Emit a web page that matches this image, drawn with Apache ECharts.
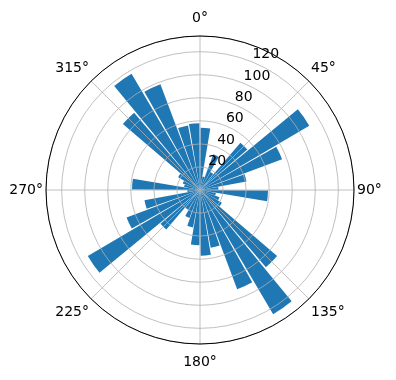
<!DOCTYPE html>
<html>
<head>
<meta charset="utf-8">
<script src="https://cdn.jsdelivr.net/npm/echarts@6/dist/echarts.min.js"></script>
<style>
html,body{margin:0;padding:0;background:#fff;}
#chart{width:396px;height:380px;}
</style>
</head>
<body>
<div id="chart"></div>
<script>
// Bin centres (degrees, clockwise from north)
const directions = ['5','15','25','35','45','55','65','75','85','95','105','115',
  '125','135','145','155','165','175','185','195','205','215','225','235',
  '245','255','265','275','285','295','305','315','325','335','345','355'];
// Bar heights
const counts = [54, 12, 33, 18, 54, 110, 76, 41, 16, 59, 14, 18,
  22, 88, 125, 92, 51, 57, 48, 33, 26, 20, 45, 113,
  68, 49, 11, 59, 14, 16, 22, 88, 117, 98, 57, 58];
// Tick labels
const angleTicks = [0, 45, 90, 135, 180, 225, 270, 315];
const radiusTicks = [20, 40, 60, 80, 100, 120];
const rMax = 133.6;
const radiusLabelAngle = 22.5;

const chart = echarts.init(document.getElementById('chart'), null, {renderer: 'canvas'});
const FONT = 'DejaVu Sans';
const center = [200, 190];
const radius = 154;

function angleLabel(v) {
  if (angleTicks.indexOf(v) < 0) return '';
  const t = v + '°';
  if (v === 0) return '{n|' + t + '}';
  if (v === 180) return '{s|' + t + '}';
  if (v === 45 || v === 315) return '{nd|' + t + '}';
  if (v === 135 || v === 225) return '{sd|' + t + '}';
  return '{m|' + t + '}';
}
const base = {color: '#000', fontFamily: FONT, fontSize: 14};

chart.setOption({
  animation: false,
  polar: [
    {center: center, radius: radius},
    {center: center, radius: radius}
  ],
  angleAxis: [
    { // bars
      polarIndex: 0, type: 'category', data: directions, startAngle: 90, clockwise: true,
      boundaryGap: true,
      axisLine: {show: false}, axisTick: {show: false}, axisLabel: {show: false}, splitLine: {show: false}
    },
    { // grid + degree labels
      polarIndex: 1, type: 'value', min: 0, max: 360, interval: 45, startAngle: 90, clockwise: true,
      z: 10,
      axisLine: {show: true, lineStyle: {color: '#000', width: 1}},
      axisTick: {show: false},
      axisLabel: {
        show: true, margin: 3, color: '#000', fontFamily: FONT, fontSize: 14,
        formatter: angleLabel,
        rich: {
          n: Object.assign({padding: [0, 0, 8, 0]}, base),
          s: Object.assign({padding: [8, 0, 0, 0]}, base),
          nd: Object.assign({padding: [0, 0, 4, 0]}, base),
          sd: Object.assign({padding: [4, 0, 0, 0]}, base),
          m: Object.assign({}, base)
        }
      },
      splitLine: {show: true, lineStyle: {color: '#b0b0b0', width: 0.8}}
    }
  ],
  radiusAxis: [
    {
      polarIndex: 0, type: 'value', min: 0, max: rMax,
      axisLine: {show: false}, axisTick: {show: false}, axisLabel: {show: false}, splitLine: {show: false}
    },
    {
      polarIndex: 1, type: 'value', min: 0, max: rMax, interval: 20, z: 10,
      axisLine: {show: false}, axisTick: {show: false}, axisLabel: {show: false},
      splitLine: {show: true, lineStyle: {color: '#b0b0b0', width: 0.8}}
    }
  ],
  series: [{
    type: 'bar',
    coordinateSystem: 'polar',
    polarIndex: 0,
    data: counts,
    barCategoryGap: '10%',
    itemStyle: {color: '#1f77b4'},
    z: 2
  }, {
    // radius tick labels, placed at the tick radii along 22.5°
    type: 'scatter',
    coordinateSystem: 'polar',
    polarIndex: 1,
    symbol: 'circle',
    symbolSize: 1,
    itemStyle: {color: 'rgba(0,0,0,0)'},
    silent: true,
    z: 20,
    labelLayout: {hideOverlap: false},
    data: radiusTicks.map(function (v) { return [v, radiusLabelAngle]; }),
    label: {
      show: true, position: [0, 0], align: 'left', verticalAlign: 'bottom', distance: 0,
      opacity: 1, color: '#000', fontFamily: FONT, fontSize: 14,
      formatter: function (p) { return String(p.value[0]); }
    }
  }]
});
</script>
</body>
</html>
